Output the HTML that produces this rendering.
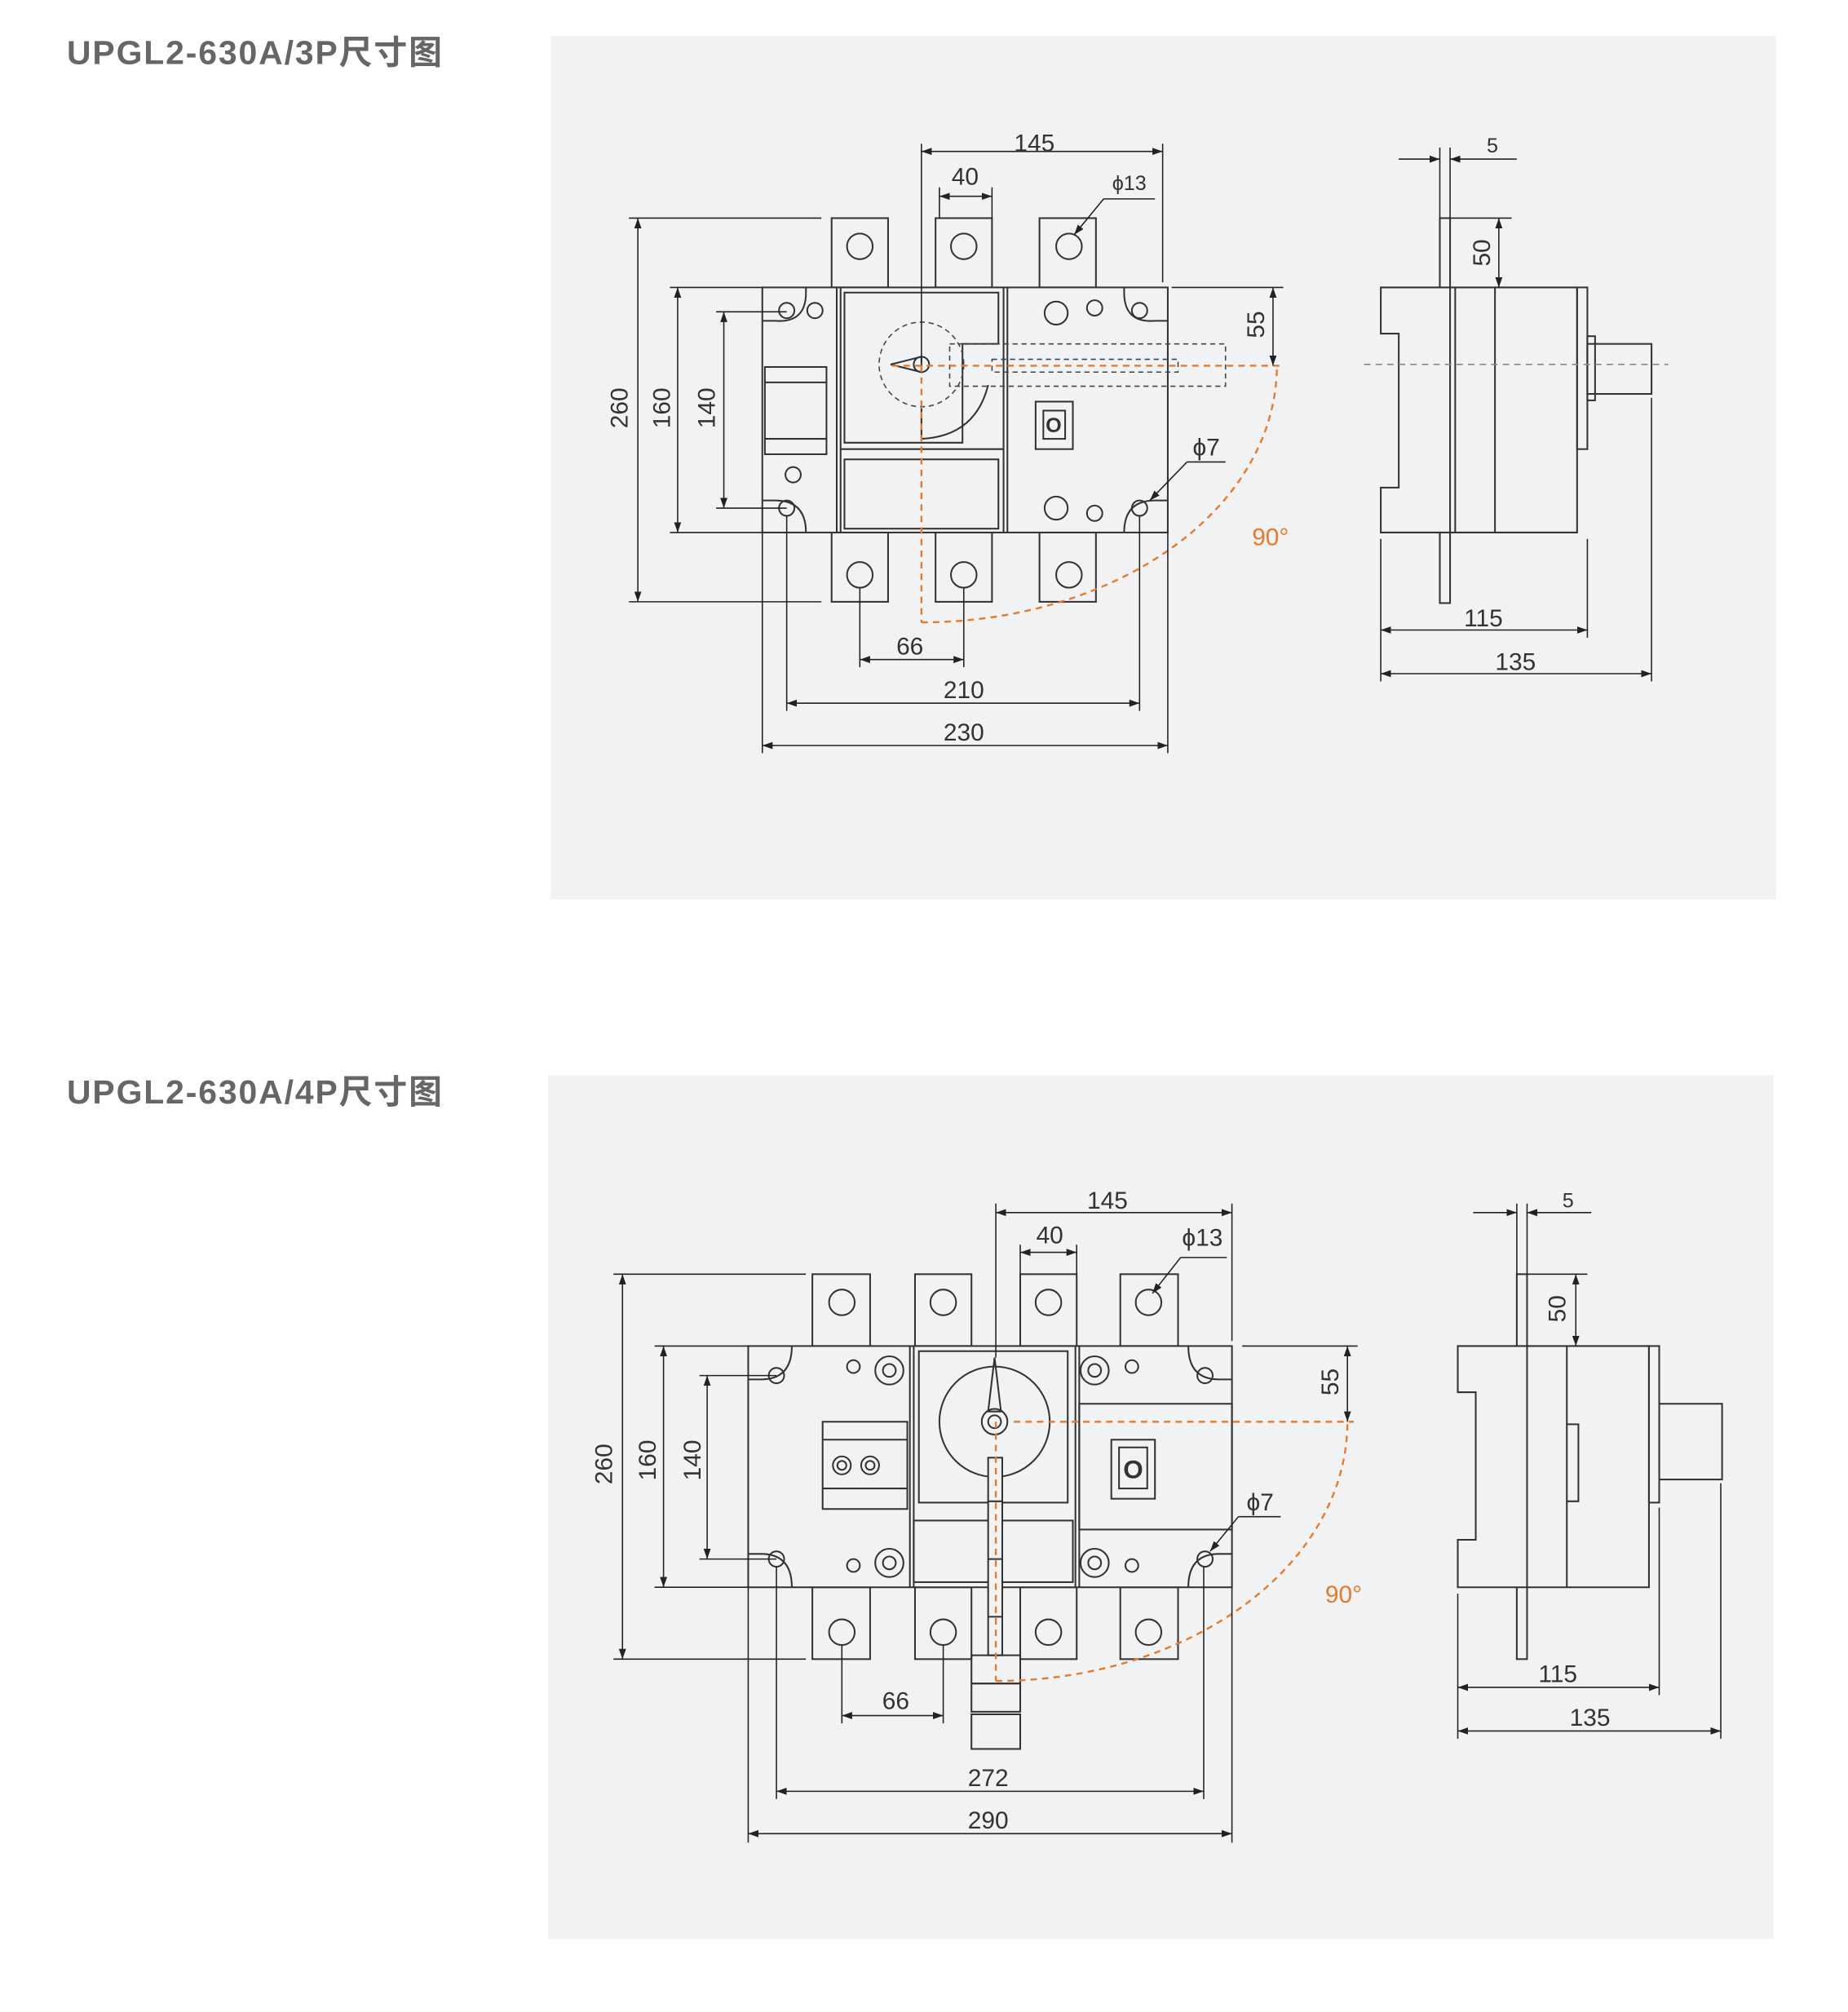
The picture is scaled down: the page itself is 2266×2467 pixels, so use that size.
<!DOCTYPE html>
<html><head><meta charset="utf-8"><style>
html,body{margin:0;padding:0;background:#fff}
svg{display:block}
text{font-family:"Liberation Sans","Noto Sans CJK SC",sans-serif;fill:#333}
</style></head><body>
<svg width="2266" height="2467" viewBox="0 0 1440 1568" xmlns="http://www.w3.org/2000/svg">
<defs>
<marker id="a" viewBox="0 0 10 10" refX="10" refY="5" markerWidth="8" markerHeight="8" orient="auto-start-reverse"><path d="M0,1.5 L10,5 L0,8.5z" fill="#222"/></marker>
</defs>
<rect width="1440" height="1568" fill="#fff"/>
<text x="52" y="50" font-size="26" font-weight="bold" letter-spacing="1.2" style="fill:#666">UPGL2-630A/3P尺寸图</text>
<text x="52" y="860" font-size="26" font-weight="bold" letter-spacing="1.2" style="fill:#666">UPGL2-630A/4P尺寸图</text>
<rect x="429" y="28" width="955" height="673" fill="#f1f2f3"/>
<rect x="427" y="838" width="955" height="673" fill="#f1f2f3"/>

<!-- ================= 3P FRONT ================= -->
<g fill="none" stroke="#333" stroke-width="1.3">
<rect x="648" y="170" width="44" height="54"/><rect x="729" y="170" width="44" height="54"/><rect x="810" y="170" width="44" height="54"/>
<circle cx="670" cy="192" r="10"/><circle cx="751" cy="192" r="10"/><circle cx="833" cy="192" r="10"/>
<rect x="648" y="415" width="44" height="54"/><rect x="729" y="415" width="44" height="54"/><rect x="810" y="415" width="44" height="54"/>
<circle cx="670" cy="448" r="10"/><circle cx="751" cy="448" r="10"/><circle cx="833" cy="448" r="10"/>
<rect x="594" y="224" width="316" height="191" fill="#f1f2f3"/>
<line x1="652" y1="224" x2="652" y2="415"/><line x1="785" y1="224" x2="785" y2="415"/>
<line x1="655" y1="224" x2="655" y2="415"/><line x1="782" y1="224" x2="782" y2="415"/>
<path d="M658,228 H778 V268 H750 V345 H658 Z"/>
<rect x="658" y="358" width="120" height="54"/>
<line x1="655" y1="350" x2="782" y2="350"/>
<path d="M718,318 V342 Q760,340 770,300"/>
<rect x="596" y="286" width="48" height="68"/>
<line x1="596" y1="298" x2="644" y2="298"/><line x1="596" y1="342" x2="644" y2="342"/>
<path d="M594,250 H604 Q628,252 628,228 V224"/><path d="M594,390 H604 Q628,390 628,415"/>
<path d="M910,250 H900 Q876,252 876,228 V224"/><path d="M910,390 H900 Q876,390 876,415"/>
<circle cx="613" cy="242" r="6"/><circle cx="613" cy="396" r="6"/><circle cx="888" cy="242" r="6"/><circle cx="888" cy="396" r="6"/>
<circle cx="635" cy="242" r="6"/><circle cx="618" cy="370" r="6"/>
<circle cx="823" cy="244" r="9"/><circle cx="853" cy="240" r="6"/><circle cx="823" cy="396" r="9"/><circle cx="853" cy="400" r="6"/>
<rect x="807" y="313" width="29" height="37"/><rect x="813" y="320" width="17" height="22"/>
<circle cx="718" cy="284" r="6"/><path d="M694,284 L718,278 V290 Z"/>
</g>
<text x="821" y="337" font-size="16" font-weight="bold" text-anchor="middle" font-family="Liberation Serif">O</text>
<g fill="none" stroke="#444" stroke-width="1" stroke-dasharray="4,3">
<circle cx="718" cy="284" r="33"/>
<rect x="740" y="268" width="215" height="33"/><rect x="773" y="280" width="145" height="10"/>
</g>
<g fill="none" stroke="#e8782a" stroke-width="1.5" stroke-dasharray="5,4">
<line x1="695" y1="285" x2="1000" y2="285"/><line x1="718" y1="285" x2="718" y2="485"/>
<path d="M718,485 A277,200 0 0 0 995,285"/>
</g>
<text x="990" y="425" font-size="19" text-anchor="middle" style="fill:#e8782a">90°</text>
<g stroke="#222" stroke-width="1" fill="none">
<line x1="718" y1="112" x2="718" y2="282"/><line x1="906" y1="112" x2="906" y2="220"/>
<line x1="718" y1="118" x2="906" y2="118" marker-start="url(#a)" marker-end="url(#a)"/>
<line x1="732" y1="146" x2="732" y2="170"/><line x1="773" y1="146" x2="773" y2="170"/>
<line x1="732" y1="153" x2="773" y2="153" marker-start="url(#a)" marker-end="url(#a)"/>
<path d="M860,155 H900" /><line x1="860" y1="155" x2="837" y2="183" marker-end="url(#a)"/>
<line x1="490" y1="170" x2="640" y2="170"/><line x1="490" y1="469" x2="640" y2="469"/>
<line x1="497" y1="170" x2="497" y2="469" marker-start="url(#a)" marker-end="url(#a)"/>
<line x1="522" y1="224" x2="594" y2="224"/><line x1="522" y1="415" x2="594" y2="415"/>
<line x1="528" y1="224" x2="528" y2="415" marker-start="url(#a)" marker-end="url(#a)"/>
<line x1="558" y1="243" x2="613" y2="243"/><line x1="558" y1="396" x2="613" y2="396"/>
<line x1="564" y1="243" x2="564" y2="396" marker-start="url(#a)" marker-end="url(#a)"/>
<line x1="913" y1="224" x2="1000" y2="224"/>
<line x1="992" y1="224" x2="992" y2="285" marker-start="url(#a)" marker-end="url(#a)"/>
<path d="M925,360 H955"/><line x1="925" y1="360" x2="896" y2="390" marker-end="url(#a)"/>
<line x1="670" y1="458" x2="670" y2="520"/><line x1="751" y1="458" x2="751" y2="520"/>
<line x1="670" y1="514" x2="751" y2="514" marker-start="url(#a)" marker-end="url(#a)"/>
<line x1="613" y1="402" x2="613" y2="554"/><line x1="888" y1="402" x2="888" y2="554"/>
<line x1="613" y1="548" x2="888" y2="548" marker-start="url(#a)" marker-end="url(#a)"/>
<line x1="594" y1="415" x2="594" y2="587"/><line x1="910" y1="415" x2="910" y2="587"/>
<line x1="594" y1="581" x2="910" y2="581" marker-start="url(#a)" marker-end="url(#a)"/>
</g>
<g font-size="19" text-anchor="middle">
<text x="806" y="118">145</text><text x="752" y="144">40</text><text x="880" y="148" font-size="16">ϕ13</text>
<text x="940" y="355">ϕ7</text><text x="709" y="510">66</text><text x="751" y="544">210</text><text x="751" y="577">230</text>
<text transform="translate(489,318) rotate(-90)">260</text>
<text transform="translate(522,318) rotate(-90)">160</text>
<text transform="translate(557,318) rotate(-90)">140</text>
<text transform="translate(985,253) rotate(-90)">55</text>
</g>
<!-- 3P SIDE -->
<g fill="none" stroke="#333" stroke-width="1.3">
<rect x="1122" y="170" width="8" height="300"/>
<path d="M1076,224 H1229 V415 H1076 V380 H1090 V260 H1076 Z" fill="#f1f2f3"/>
<line x1="1130" y1="224" x2="1130" y2="415"/><line x1="1134" y1="224" x2="1134" y2="415"/><line x1="1165" y1="224" x2="1165" y2="415"/>
<rect x="1229" y="224" width="8" height="126"/>
<rect x="1237" y="268" width="50" height="39"/><rect x="1237" y="262" width="6" height="50"/>
</g>
<line x1="1063" y1="284" x2="1300" y2="284" stroke="#888" stroke-width="1" stroke-dasharray="5,4"/>
<g stroke="#222" stroke-width="1" fill="none">
<line x1="1122" y1="115" x2="1122" y2="170"/><line x1="1130" y1="115" x2="1130" y2="170"/>
<line x1="1090" y1="124" x2="1122" y2="124" marker-end="url(#a)"/><line x1="1182" y1="124" x2="1130" y2="124" marker-end="url(#a)"/>
<line x1="1130" y1="170" x2="1178" y2="170"/>
<line x1="1168" y1="170" x2="1168" y2="224" marker-start="url(#a)" marker-end="url(#a)"/>
<line x1="1076" y1="420" x2="1076" y2="531"/><line x1="1237" y1="420" x2="1237" y2="497"/><line x1="1287" y1="310" x2="1287" y2="531"/>
<line x1="1076" y1="491" x2="1237" y2="491" marker-start="url(#a)" marker-end="url(#a)"/>
<line x1="1076" y1="525" x2="1287" y2="525" marker-start="url(#a)" marker-end="url(#a)"/>
</g>
<g font-size="19" text-anchor="middle">
<text x="1163" y="119" font-size="16">5</text>
<text transform="translate(1161,197) rotate(-90)">50</text>
<text x="1156" y="488">115</text><text x="1181" y="522">135</text>
</g>

<!-- ================= 4P FRONT ================= -->
<g fill="none" stroke="#333" stroke-width="1.3">
<rect x="633" y="993" width="45" height="56"/><rect x="713" y="993" width="44" height="56"/><rect x="795" y="993" width="44" height="56"/><rect x="873" y="993" width="45" height="56"/>
<circle cx="656" cy="1015" r="10"/><circle cx="735" cy="1015" r="10"/><circle cx="817" cy="1015" r="10"/><circle cx="895" cy="1015" r="10"/>
<rect x="633" y="1237" width="45" height="56"/><rect x="713" y="1237" width="44" height="56"/><rect x="795" y="1237" width="44" height="56"/><rect x="873" y="1237" width="45" height="56"/>
<circle cx="656" cy="1272" r="10"/><circle cx="735" cy="1272" r="10"/><circle cx="817" cy="1272" r="10"/><circle cx="895" cy="1272" r="10"/>
<rect x="583" y="1049" width="377" height="188" fill="#f1f2f3"/>
<line x1="709" y1="1049" x2="709" y2="1237"/><line x1="712" y1="1049" x2="712" y2="1237"/>
<line x1="838" y1="1049" x2="838" y2="1237"/><line x1="841" y1="1049" x2="841" y2="1237"/>
<rect x="716" y="1053" width="116" height="118"/>
<rect x="712" y="1185" width="124" height="48"/>
<rect x="841" y="1094" width="119" height="98"/>
<rect x="641" y="1108" width="66" height="68"/><line x1="641" y1="1122" x2="707" y2="1122"/><line x1="641" y1="1160" x2="707" y2="1160"/>
<circle cx="656" cy="1142" r="7"/><circle cx="656" cy="1142" r="3.5"/><circle cx="678" cy="1142" r="7"/><circle cx="678" cy="1142" r="3.5"/>
<path d="M583,1075 H593 Q617,1075 617,1049"/><path d="M583,1211 H593 Q617,1211 617,1237"/>
<path d="M960,1075 H950 Q926,1075 926,1049"/><path d="M960,1211 H950 Q926,1211 926,1237"/>
<circle cx="605" cy="1072" r="6"/><circle cx="605" cy="1215" r="6"/><circle cx="939" cy="1072" r="6"/><circle cx="939" cy="1215" r="6"/>
<circle cx="665" cy="1065" r="5"/><circle cx="665" cy="1220" r="5"/><circle cx="882" cy="1065" r="5"/><circle cx="882" cy="1220" r="5"/>
<circle cx="693" cy="1068" r="11"/><circle cx="693" cy="1068" r="5"/><circle cx="693" cy="1218" r="11"/><circle cx="693" cy="1218" r="5"/>
<circle cx="853" cy="1068" r="11"/><circle cx="853" cy="1068" r="5"/><circle cx="853" cy="1218" r="11"/><circle cx="853" cy="1218" r="5"/>
<rect x="866" y="1122" width="34" height="46"/><rect x="872" y="1128" width="22" height="32"/>
<circle cx="775" cy="1108" r="43" fill="#f1f2f3"/>
<rect x="770" y="1136" width="11" height="154" fill="#f1f2f3"/>
<line x1="770" y1="1170" x2="781" y2="1170"/><line x1="770" y1="1215" x2="781" y2="1215"/><line x1="770" y1="1260" x2="781" y2="1260"/>
<rect x="757" y="1290" width="38" height="22"/><rect x="757" y="1312" width="38" height="22"/><rect x="757" y="1336" width="38" height="27"/>
<circle cx="775" cy="1108" r="10"/><circle cx="775" cy="1108" r="5"/>
<path d="M775,1058 L770,1100 H780 Z"/>
</g>
<text x="883" y="1152" font-size="20" font-weight="bold" text-anchor="middle" font-family="Liberation Serif">O</text>
<g fill="none" stroke="#e8782a" stroke-width="1.5" stroke-dasharray="5,4">
<line x1="790" y1="1108" x2="1055" y2="1108"/><line x1="776" y1="1108" x2="776" y2="1310"/>
<path d="M776,1310 A274,202 0 0 0 1050,1108"/>
</g>
<text x="1047" y="1249" font-size="19" text-anchor="middle" style="fill:#e8782a">90°</text>
<g stroke="#222" stroke-width="1" fill="none">
<line x1="776" y1="938" x2="776" y2="1058"/><line x1="960" y1="938" x2="960" y2="1045"/>
<line x1="776" y1="945" x2="960" y2="945" marker-start="url(#a)" marker-end="url(#a)"/>
<line x1="795" y1="970" x2="795" y2="993"/><line x1="839" y1="970" x2="839" y2="993"/>
<line x1="795" y1="976" x2="839" y2="976" marker-start="url(#a)" marker-end="url(#a)"/>
<path d="M920,980 H956"/><line x1="920" y1="980" x2="898" y2="1008" marker-end="url(#a)"/>
<line x1="478" y1="993" x2="628" y2="993"/><line x1="478" y1="1293" x2="628" y2="1293"/>
<line x1="485" y1="993" x2="485" y2="1293" marker-start="url(#a)" marker-end="url(#a)"/>
<line x1="510" y1="1049" x2="583" y2="1049"/><line x1="510" y1="1237" x2="583" y2="1237"/>
<line x1="517" y1="1049" x2="517" y2="1237" marker-start="url(#a)" marker-end="url(#a)"/>
<line x1="545" y1="1072" x2="605" y2="1072"/><line x1="545" y1="1215" x2="605" y2="1215"/>
<line x1="551" y1="1072" x2="551" y2="1215" marker-start="url(#a)" marker-end="url(#a)"/>
<line x1="968" y1="1049" x2="1058" y2="1049"/>
<line x1="1050" y1="1049" x2="1050" y2="1108" marker-start="url(#a)" marker-end="url(#a)"/>
<path d="M965,1182 H998"/><line x1="965" y1="1182" x2="943" y2="1209" marker-end="url(#a)"/>
<line x1="656" y1="1282" x2="656" y2="1343"/><line x1="735" y1="1282" x2="735" y2="1343"/>
<line x1="656" y1="1337" x2="735" y2="1337" marker-start="url(#a)" marker-end="url(#a)"/>
<line x1="605" y1="1221" x2="605" y2="1402"/><line x1="938" y1="1221" x2="938" y2="1402"/>
<line x1="605" y1="1396" x2="938" y2="1396" marker-start="url(#a)" marker-end="url(#a)"/>
<line x1="583" y1="1237" x2="583" y2="1436"/><line x1="960" y1="1237" x2="960" y2="1436"/>
<line x1="583" y1="1429" x2="960" y2="1429" marker-start="url(#a)" marker-end="url(#a)"/>
</g>
<g font-size="19" text-anchor="middle">
<text x="863" y="942">145</text><text x="818" y="969">40</text><text x="937" y="971">ϕ13</text>
<text x="982" y="1177">ϕ7</text><text x="698" y="1332">66</text><text x="770" y="1392">272</text><text x="770" y="1425">290</text>
<text transform="translate(477,1141) rotate(-90)">260</text>
<text transform="translate(511,1138) rotate(-90)">160</text>
<text transform="translate(546,1138) rotate(-90)">140</text>
<text transform="translate(1043,1077) rotate(-90)">55</text>
</g>
<!-- 4P SIDE -->
<g fill="none" stroke="#333" stroke-width="1.3">
<rect x="1182" y="993" width="8" height="300"/>
<path d="M1136,1049 H1285 V1237 H1136 V1200 H1150 V1085 H1136 Z" fill="#f1f2f3"/>
<line x1="1190" y1="1049" x2="1190" y2="1237"/><line x1="1221" y1="1049" x2="1221" y2="1237"/>
<path d="M1221,1110 H1230 V1170 H1221"/>
<rect x="1285" y="1049" width="8" height="122"/>
<rect x="1293" y="1094" width="49" height="59"/>
</g>
<g stroke="#222" stroke-width="1" fill="none">
<line x1="1182" y1="938" x2="1182" y2="993"/><line x1="1190" y1="938" x2="1190" y2="993"/>
<line x1="1148" y1="945" x2="1182" y2="945" marker-end="url(#a)"/><line x1="1240" y1="945" x2="1190" y2="945" marker-end="url(#a)"/>
<line x1="1190" y1="993" x2="1237" y2="993"/>
<line x1="1228" y1="993" x2="1228" y2="1049" marker-start="url(#a)" marker-end="url(#a)"/>
<line x1="1136" y1="1242" x2="1136" y2="1355"/><line x1="1293" y1="1175" x2="1293" y2="1321"/><line x1="1341" y1="1156" x2="1341" y2="1355"/>
<line x1="1136" y1="1315" x2="1293" y2="1315" marker-start="url(#a)" marker-end="url(#a)"/>
<line x1="1136" y1="1349" x2="1341" y2="1349" marker-start="url(#a)" marker-end="url(#a)"/>
</g>
<g font-size="19" text-anchor="middle">
<text x="1222" y="941" font-size="16">5</text>
<text transform="translate(1220,1020) rotate(-90)">50</text>
<text x="1214" y="1311">115</text><text x="1239" y="1345">135</text>
</g>
</svg>
</body></html>
